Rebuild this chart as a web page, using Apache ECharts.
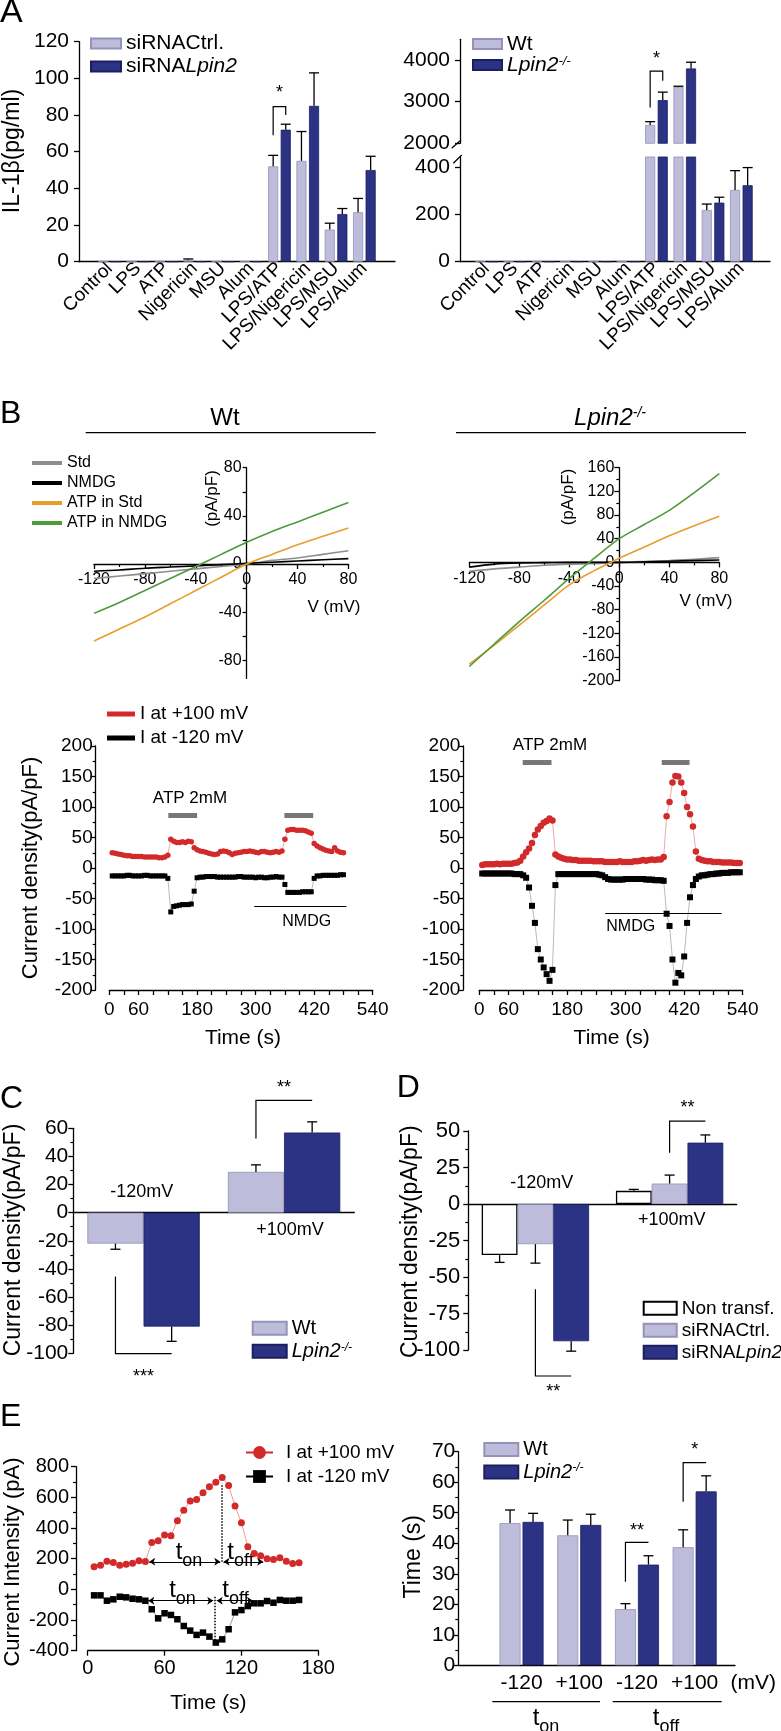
<!DOCTYPE html>
<html>
<head>
<meta charset="utf-8">
<script src="https://cdn.jsdelivr.net/npm/echarts@6.0.0/dist/echarts.min.js"></script>
<style>
html,body{margin:0;padding:0;background:#fff;}
#main{width:781px;height:1731px;}
</style>
</head>
<body>
<div id="main"></div>
<script>
// ---- data ----
var aCats = ['Control', 'LPS', 'ATP', 'Nigericin', 'MSU', 'Alum', 'LPS/ATP', 'LPS/Nigericin', 'LPS/MSU', 'LPS/Alum'];
var aLeftCtrl = [0, 0, 0, 1, 0, 0, 52, 55, 17.5, 27];
var aLeftCtrlSem = [0, 0, 0, 0.5, 0, 0, 6, 16, 3.5, 7.5];
var aLeftKd = [0, 0, 0, 0, 0, 0, 72, 85, 26, 50];
var aLeftKdSem = [0, 0, 0, 0, 0, 0, 3, 18, 3, 7.5];
var aRightWt = [0, 0, 0, 0, 0, 0, 2440, 3357, 220, 305];
var aRightWtSem = [0, 0, 0, 0, 0, 0, 80, 15, 25, 82];
var aRightKo = [0, 0, 0, 0, 0, 0, 3038, 3799, 251, 325];
var aRightKoSem = [0, 0, 0, 0, 0, 0, 192, 150, 23, 75];

// I-V curves (mV -> pA/pF)
var ivVolt = [-120, -100, -80, -60, -40, -20, 0, 20, 40, 60, 80];
var wtStd = [-12, -10, -8, -6, -4, -2, 0, 3, 5, 8, 11];
var wtNmdg = [-6, -5, -3.5, -2.5, -1.5, -0.5, 0.5, 1.5, 2.5, 3.5, 4.5];
var wtAtpStd = [-64, -54, -44, -33, -22, -11, 0, 8, 16, 23, 30];
var wtAtpNmdg = [-41, -32, -22, -12, -2, 8, 18, 27, 35, 43, 51];
var koStd = [-15, -11, -8, -5, -3, -2, 0, 1.5, 3, 5, 8];
var koNmdg = [-8, -3, -1, -0.5, 0, 0, 0, 1, 2, 3, 4];
var koAtpStd = [-172, -140, -106, -72, -38, -14, 7, 26, 45, 62, 78];
var koAtpNmdg = [-176, -138, -100, -64, -27, 7, 40, 64, 88, 118, 150];

// time courses (s -> pA/pF)
var wtTime = [6, 12, 18, 24, 30, 36, 42, 48, 54, 60, 66, 72, 78, 84, 90, 96, 102, 108, 114, 120,
  126, 132, 138, 144, 150, 156, 162, 168, 174, 180, 186, 192, 198, 204, 210, 216, 222, 228, 234, 240,
  246, 252, 258, 264, 270, 276, 282, 288, 294, 300, 306, 312, 318, 324, 330, 336, 342, 348, 354, 360,
  366, 372, 378, 384, 390, 396, 402, 408, 414, 420, 426, 432, 438, 444, 450, 456, 462, 468, 474, 480];
var wtRed = [25, 24, 23, 22, 21, 20, 20, 19, 19, 19, 19, 18, 18, 18, 18, 18, 17, 17, 18, 21,
  47, 44, 42, 42, 43, 42, 44, 43, 33, 30, 28, 27, 26, 24, 23, 22, 23, 27, 28, 27,
  25, 22, 24, 25, 26, 27, 27, 28, 27, 26, 25, 27, 27, 26, 25, 26, 27, 26, 28, 47,
  62, 63, 63, 62, 62, 62, 61, 59, 57, 40, 36, 33, 31, 29, 28, 27, 33, 28, 26, 25];
var wtBlack = [-13, -13, -13, -13, -13, -12, -12, -13, -13, -13, -13, -12, -12, -13, -13, -13, -13, -13, -13, -17,
  -72, -63, -62, -61, -60, -60, -60, -59, -38, -16, -15, -15, -14, -14, -14, -14, -15, -15, -15, -15,
  -15, -15, -15, -14, -14, -15, -15, -15, -15, -16, -15, -15, -16, -16, -15, -15, -14, -15, -15, -27,
  -40, -40, -40, -40, -40, -39, -39, -39, -39, -17, -13, -13, -12, -12, -12, -12, -12, -12, -11, -11];
var koTime = [6, 12, 18, 24, 30, 36, 42, 48, 54, 60, 66, 72, 78, 84, 90, 96, 102, 108, 114, 120,
  126, 132, 138, 144, 150, 156, 162, 168, 174, 180, 186, 192, 198, 204, 210, 216, 222, 228, 234, 240,
  246, 252, 258, 264, 270, 276, 282, 288, 294, 300, 306, 312, 318, 324, 330, 336, 342, 348, 354, 360,
  366, 372, 378, 384, 390, 396, 402, 408, 414, 420, 426, 432, 438, 444, 450, 456, 462, 468, 474, 480,
  486, 492, 498, 504, 510, 516, 522, 528, 534];
var koRed = [5, 6, 6, 6, 6, 7, 6, 7, 7, 7, 7, 8, 9, 12, 19, 26, 32, 41, 54, 63,
  69, 74, 77, 81, 78, 22, 19, 17, 15, 14, 14, 13, 13, 12, 12, 12, 12, 12, 11, 11,
  11, 11, 10, 10, 10, 10, 10, 11, 10, 10, 10, 10, 11, 11, 12, 13, 12, 13, 14, 13,
  14, 14, 18, 85, 108, 140, 151, 150, 140, 123, 100, 88, 68, 27, 15, 13, 12, 11, 11, 10,
  10, 10, 9, 9, 9, 9, 8, 8, 8];
var koBlack = [-9, -9, -9, -9, -9, -9, -9, -9, -9, -9, -9, -10, -10, -10, -12, -16, -32, -62, -90, -133,
  -150, -163, -174, -185, -167, -28, -10, -10, -10, -10, -10, -10, -10, -10, -10, -10, -10, -10, -10, -10,
  -11, -12, -15, -18, -19, -19, -19, -19, -19, -18, -18, -18, -18, -18, -18, -18, -19, -19, -19, -20,
  -20, -20, -21, -75, -95, -150, -188, -172, -176, -145, -90, -48, -28, -18, -14, -12, -12, -11, -10, -10,
  -9, -9, -8, -8, -8, -7, -7, -7, -7];

// C
var cCats = ['-120mV', '+100mV'];
var cWt = [-22, 29];
var cWtSem = [4, 5];
var cKo = [-81, 57];
var cKoSem = [10.5, 7.6];
// D
var dCats = ['-120mV', '+100mV'];
var dNon = [-35, 9];
var dNonSem = [5, 1];
var dCtrl = [-27.5, 14];
var dCtrlSem = [13, 5.8];
var dKd = [-94, 42];
var dKdSem = [6.8, 5.3];
// E
var eTime = [5, 10, 15, 20, 25, 30, 35, 40, 45, 50, 55, 60, 65, 70, 75, 80, 85, 90, 95, 100,
  105, 110, 115, 120, 125, 130, 135, 140, 145, 150, 155, 160, 165];
var eRed = [148, 158, 184, 176, 158, 163, 170, 187, 182, 306, 317, 354, 349, 447, 516, 577, 586, 630, 669, 699,
  730, 678, 543, 435, 278, 234, 219, 200, 195, 206, 184, 169, 174];
var eBlack = [-39, -39, -74, -65, -48, -52, -61, -65, -74, -130, -189, -156, -167, -195, -239, -269, -297, -282, -308, -347,
  -326, -260, -150, -135, -109, -91, -91, -76, -87, -69, -74, -74, -69];
var eCats = ['-120', '+100', '-120', '+100'];
var eWt = [46.6, 42.6, 18.4, 38.7];
var eWtSem = [4.3, 5, 1.8, 5.7];
var eKo = [47, 46, 33, 57];
var eKoSem = [2.8, 3.5, 2.9, 5.1];

// significance brackets: [category, leftBar, rightBar, yLeftEnd, yLine, yRightEnd, yStar]
var aLeftBrk = [[6, 0, 1, 69, 84.6, 80, 94.7]];
var aLeftStars = ['*'];
var aRightBrk = [[6, 0, 1, 2863, 3734, 3501, 4149]];
var aRightStars = ['*'];
var cBrk = [[1, 0, 1, 52.8, 79.9, 79.9, 92.2], [0, 0, 1, -45.4, -100.2, -100.2, -113.5]];
var cStars = ['**', '***'];
var dBrk = [[1, 1, 2, 35.1, 56.8, 56.8, 69], [0, 1, 2, -58.4, -117.8, -117.8, -125.1]];
var dStars = ['**', '**'];
var eBrk = [[2, 0, 1, 27.4, 40.3, 40.3, 45.7], [3, 0, 1, 53.6, 66.4, 66.4, 72.2]];
var eStars = ['**', '*'];

// ---- styles ----
var FONT = 'Liberation Sans, Arial, Helvetica, sans-serif';
var LIGHT = {color: '#BEBCDB', borderColor: '#9492B8', borderWidth: 0.8};
var DARK = {color: '#2C3385', borderColor: '#1B1F5E', borderWidth: 0.8};
var WHITE = {color: '#FFFFFF', borderColor: '#000000', borderWidth: 1.3};
var RED = '#D22A2A', ORANGE = '#E99D2B', GREEN = '#4C9B3A', GRAY = '#8E8E8E';

function mix(a, b) {
  var out = {}, k;
  for (k in a) out[k] = a[k];
  for (k in b) {
    if (b[k] && typeof b[k] === 'object' && !Array.isArray(b[k]) && a[k] && typeof a[k] === 'object' && !Array.isArray(a[k])) {
      out[k] = mix(a[k], b[k]);
    } else {
      out[k] = b[k];
    }
  }
  return out;
}
function pairs(xs, ys) {
  return xs.map(function (x, i) { return [x, ys[i]]; });
}
function plain(v) { return String(v); }

var axisBase = {
  splitLine: {show: false},
  axisLine: {show: true, onZero: false, lineStyle: {color: '#000', width: 1.3}},
  axisTick: {show: true, length: 5, inside: false, lineStyle: {color: '#000', width: 1.3}},
  minorTick: {show: false},
  axisLabel: {color: '#000', fontFamily: FONT, fontSize: 20, margin: 6}
};
var minor2 = {show: true, splitNumber: 2, length: 3, lineStyle: {color: '#000', width: 1.2}};
function vAx(g, o) { return mix(mix(axisBase, {type: 'value', gridIndex: g, axisLabel: {formatter: plain}}), o || {}); }
function cAx(g, cats, o) {
  return mix(mix(axisBase, {type: 'category', gridIndex: g, data: cats, axisTick: {show: false}, axisLabel: {interval: 0}}), o || {});
}

// ---- series helpers ----
function bar(g, name, vals, style, extra) {
  return mix({type: 'bar', name: name, xAxisIndex: g, yAxisIndex: g, data: vals, itemStyle: style, silent: true}, extra || {});
}
function barOff(api, n, k, cg, bg) {
  var band = api.size([1, 0])[0];
  var w = band * (1 - cg) / (n + (n - 1) * bg);
  return -band * (1 - cg) / 2 + w / 2 + k * w * (1 + bg);
}
function errSeries(g, vals, sems, k, n, cg, bg, keep) {
  var d = [];
  vals.forEach(function (v, i) {
    if (!sems[i]) return;
    var end = v >= 0 ? v + sems[i] : v - sems[i];
    if (keep && !keep(v, end)) return;
    d.push([i, v, end]);
  });
  return {
    type: 'custom', xAxisIndex: g, yAxisIndex: g, data: d, z: 3, silent: true,
    renderItem: function (params, api) {
      var off = barOff(api, n, k, cg, bg);
      var p0 = api.coord([api.value(0), api.value(1)]);
      var p1 = api.coord([api.value(0), api.value(2)]);
      var x = p0[0] + off, cap = 5;
      return {type: 'group', children: [
        {type: 'line', shape: {x1: x, y1: p0[1], x2: x, y2: p1[1]}, style: {stroke: '#000', lineWidth: 1.3}},
        {type: 'line', shape: {x1: x - cap, y1: p1[1], x2: x + cap, y2: p1[1]}, style: {stroke: '#000', lineWidth: 1.3}}
      ]};
    }
  };
}
function bracketSeries(g, brk, stars, n, cg, bg) {
  return {
    type: 'custom', xAxisIndex: g, yAxisIndex: g, data: brk, z: 4, silent: true,
    renderItem: function (params, api) {
      var c = api.value(0);
      var pL = api.coord([c, api.value(3)]), pM = api.coord([c, api.value(4)]);
      var pR = api.coord([c, api.value(5)]), pS = api.coord([c, api.value(6)]);
      var xl = pL[0] + barOff(api, n, api.value(1), cg, bg);
      var xr = pL[0] + barOff(api, n, api.value(2), cg, bg);
      return {type: 'group', children: [
        {type: 'polyline', shape: {points: [[xl, pL[1]], [xl, pM[1]], [xr, pM[1]], [xr, pR[1]]]},
          style: {stroke: '#000', lineWidth: 1.2, fill: 'none'}},
        {type: 'text', x: (xl + xr) / 2, y: pS[1] + 5,
          style: {text: stars[params.dataIndex], fontSize: 18, fontFamily: FONT, fill: '#000', align: 'center', verticalAlign: 'middle'}}
      ]};
    }
  };
}
function ivLine(g, name, vals, color) {
  return {type: 'line', name: name, xAxisIndex: g, yAxisIndex: g, data: pairs(ivVolt, vals), symbol: 'none',
    smooth: 0.3, silent: true, z: 3, lineStyle: {color: color, width: 1.6}, itemStyle: {color: color}};
}
function tcLine(g, name, xs, ys, color, sym, size, lineColor, mark) {
  var s = {type: 'line', name: name, xAxisIndex: g, yAxisIndex: g, data: pairs(xs, ys), symbol: sym,
    symbolSize: size, silent: true, z: 3, itemStyle: {color: color}, lineStyle: {color: lineColor, width: 0.8}};
  if (mark) s.markLine = mix({silent: true, symbol: ['none', 'none'], label: {show: false}, emphasis: {disabled: true}, animation: false}, mark);
  return s;
}
function seg(x1, y1, x2, y2) { return [{coord: [x1, y1]}, {coord: [x2, y2]}]; }
function dotted(x1, y1, x2, y2) {
  return [{coord: [x1, y1], symbol: 'none', lineStyle: {type: 'dotted', width: 1.5, color: '#000'}}, {coord: [x2, y2], symbol: 'none'}];
}

// ---- layout ----
var grids = [
  {left: 95.5, top: 41.7, width: 283, height: 220},      // 0 A left
  {left: 472.5, top: 39.3, width: 283, height: 104},     // 1 A right upper
  {left: 472.5, top: 157, width: 283, height: 104.7},    // 2 A right lower
  {left: 94, top: 467.7, width: 254.4, height: 210.7},   // 3 IV Wt
  {left: 469.3, top: 467.7, width: 250, height: 213},    // 4 IV Lpin2
  {left: 109.3, top: 746, width: 263.4, height: 244},    // 5 time Wt
  {left: 479.3, top: 746, width: 263.4, height: 244},    // 6 time Lpin2
  {left: 73.3, top: 1128.3, width: 281, height: 225},    // 7 C
  {left: 468.3, top: 1131, width: 268.4, height: 219},   // 8 D
  {left: 87.7, top: 1466.7, width: 230.6, height: 184},  // 9 E left
  {left: 492.7, top: 1451.7, width: 230.8, height: 213.6}, // 10 E right
  {left: 79, top: 260.7, width: 316, height: 1},         // 11 A left axis line
  {left: 460, top: 260.7, width: 310, height: 1},        // 12 A right axis line
  {left: 458.3, top: 1664.3, width: 276.7, height: 1}    // 13 E right axis line
].map(function (g) { g.outerBoundsMode = 'none'; g.containLabel = false; return g; });

var timeTicks = [0, 30, 60, 90, 120, 150, 180, 210, 240, 270, 300, 330, 360, 390, 420, 450, 480, 510, 540];
var lineOnly = {min: 0, max: 1, axisTick: {show: false}, axisLabel: {show: false}};

// I-V axes cross at the origin: shift them inward from the grid edge
var ivWtXOff = -(210.7 * 95 / 175), ivWtYOff = -(254.4 * 120 / 200);
var ivKoXOff = -(213 * 200 / 360), ivKoYOff = -(250 * 120 / 200);

var xAxes = [
  cAx(0, aCats, {axisLine: {show: false}, axisLabel: {rotate: 45, fontSize: 19, margin: 4}}),
  cAx(1, aCats, {show: false}),
  cAx(2, aCats, {axisLine: {show: false}, axisLabel: {rotate: 45, fontSize: 19, margin: 4}}),
  vAx(3, {min: -120, max: 80, interval: 40, offset: ivWtXOff, minorTick: minor2, axisLabel: {fontSize: 16, margin: 8}}),
  vAx(4, {min: -120, max: 80, interval: 40, offset: ivKoXOff, minorTick: minor2, axisLabel: {fontSize: 16, margin: 8}}),
  vAx(5, {min: 0, max: 540, axisLabel: {fontSize: 19, margin: 10, customValues: [0, 60, 180, 300, 420, 540]}, axisTick: {customValues: timeTicks}}),
  vAx(6, {min: 0, max: 540, axisLabel: {fontSize: 19, margin: 10, customValues: [0, 60, 180, 300, 420, 540]}, axisTick: {customValues: timeTicks}}),
  cAx(7, cCats, {axisLabel: {show: false}, axisLine: {onZero: true}}),
  cAx(8, dCats, {axisLabel: {show: false}, axisLine: {onZero: true}}),
  vAx(9, {min: 0, max: 180, interval: 60, axisLabel: {fontSize: 20, margin: 8}}),
  cAx(10, eCats, {axisLine: {show: false}, axisLabel: {fontSize: 21, margin: 7}}),
  vAx(11, lineOnly),
  vAx(12, lineOnly),
  vAx(13, lineOnly)
];
var yAxes = [
  vAx(0, {min: 0, max: 120, interval: 20, offset: 16.5, axisLabel: {fontSize: 21, margin: 10}}),
  vAx(1, {min: 2000, max: 4500, offset: 12.5, axisLabel: {fontSize: 21, margin: 10, customValues: [2000, 3000, 4000]}, axisTick: {customValues: [2000, 3000, 4000]}}),
  vAx(2, {min: 0, max: 445, offset: 12.5, axisLabel: {fontSize: 21, margin: 10, customValues: [0, 200, 400]}, axisTick: {customValues: [0, 200, 400]}}),
  vAx(3, {min: -95, max: 80, offset: ivWtYOff, axisLabel: {fontSize: 16, margin: 5, customValues: [-80, -40, 0, 40, 80]},
    axisTick: {length: 4, customValues: [-80, -60, -40, -20, 0, 20, 40, 60, 80]}}),
  vAx(4, {min: -200, max: 160, interval: 40, offset: ivKoYOff, minorTick: minor2, axisLabel: {fontSize: 16, margin: 5}}),
  vAx(5, {min: -200, max: 200, interval: 50, offset: 13.6, minorTick: minor2, axisLabel: {fontSize: 19, margin: 3}}),
  vAx(6, {min: -200, max: 200, interval: 50, offset: 16, minorTick: minor2, axisLabel: {fontSize: 19, margin: 3}}),
  vAx(7, {min: -100, max: 60, interval: 20, minorTick: minor2, axisLabel: {fontSize: 21, margin: 5}}),
  vAx(8, {min: -100, max: 50, interval: 25, minorTick: minor2, axisLabel: {fontSize: 22, margin: 8}}),
  vAx(9, {min: -400, max: 800, interval: 200, offset: 11.7, minorTick: minor2, axisLabel: {fontSize: 20, margin: 7}}),
  vAx(10, {min: 0, max: 70, interval: 10, offset: 34.4, minorTick: minor2, axisLabel: {fontSize: 21, margin: 3}}),
  {type: 'value', gridIndex: 11, show: false},
  {type: 'value', gridIndex: 12, show: false},
  {type: 'value', gridIndex: 13, show: false}
];

// ---- series ----
var series = [];
// A
series.push(bar(0, 'siRNACtrl.', aLeftCtrl, LIGHT, {barCategoryGap: '20%', barGap: '25%'}));
series.push(bar(0, 'siRNALpin2', aLeftKd, DARK));
series.push(errSeries(0, aLeftCtrl, aLeftCtrlSem, 0, 2, 0.2, 0.25));
series.push(errSeries(0, aLeftKd, aLeftKdSem, 1, 2, 0.2, 0.25));
series.push(bracketSeries(0, aLeftBrk, aLeftStars, 2, 0.2, 0.25));
series.push(bar(1, 'Wt', aRightWt, LIGHT, {barCategoryGap: '20%', barGap: '25%'}));
series.push(bar(1, 'Lpin2-/-', aRightKo, DARK));
series.push(bar(2, 'Wt', aRightWt, LIGHT, {barCategoryGap: '20%', barGap: '25%'}));
series.push(bar(2, 'Lpin2-/-', aRightKo, DARK));
var upper = function (v) { return v >= 2000; };
var lower = function (v, end) { return end <= 445; };
series.push(errSeries(1, aRightWt, aRightWtSem, 0, 2, 0.2, 0.25, upper));
series.push(errSeries(1, aRightKo, aRightKoSem, 1, 2, 0.2, 0.25, upper));
series.push(errSeries(2, aRightWt, aRightWtSem, 0, 2, 0.2, 0.25, lower));
series.push(errSeries(2, aRightKo, aRightKoSem, 1, 2, 0.2, 0.25, lower));
series.push(bracketSeries(1, aRightBrk, aRightStars, 2, 0.2, 0.25));
// B: I-V
series.push(ivLine(3, 'Std', wtStd, GRAY));
series.push(ivLine(3, 'NMDG', wtNmdg, '#000'));
series.push(ivLine(3, 'ATP in Std', wtAtpStd, ORANGE));
series.push(ivLine(3, 'ATP in NMDG', wtAtpNmdg, GREEN));
series.push(ivLine(4, 'Std', koStd, GRAY));
series.push(ivLine(4, 'NMDG', koNmdg, '#000'));
series.push(ivLine(4, 'ATP in Std', koAtpStd, ORANGE));
series.push(ivLine(4, 'ATP in NMDG', koAtpNmdg, GREEN));
// B: time courses
var grayBar = {lineStyle: {color: '#777', width: 5, type: 'solid'}};
var thin = {lineStyle: {color: '#000', width: 1, type: 'solid'}};
series.push(tcLine(5, 'I at +100 mV', wtTime, wtRed, RED, 'circle', 5.5, 'rgba(210,42,42,0.5)',
  mix(grayBar, {data: [seg(121, 87, 180, 87), seg(359, 87, 418, 87)]})));
series.push(tcLine(5, 'I at -120 mV', wtTime, wtBlack, '#000', 'rect', 5, 'rgba(0,0,0,0.35)',
  mix(thin, {data: [seg(297, -62, 486, -62)]})));
series.push(tcLine(6, 'I at +100 mV', koTime, koRed, RED, 'circle', 6.5, 'rgba(210,42,42,0.5)',
  mix(grayBar, {data: [seg(89, 172.6, 148, 172.6), seg(374, 172.6, 431, 172.6)]})));
series.push(tcLine(6, 'I at -120 mV', koTime, koBlack, '#000', 'rect', 6, 'rgba(0,0,0,0.35)',
  mix(thin, {data: [seg(258, -74, 497, -74)]})));
// C
series.push(bar(7, 'Wt', cWt, LIGHT, {barCategoryGap: '20%', barGap: '0%'}));
series.push(bar(7, 'Lpin2-/-', cKo, DARK));
series.push(errSeries(7, cWt, cWtSem, 0, 2, 0.2, 0));
series.push(errSeries(7, cKo, cKoSem, 1, 2, 0.2, 0));
series.push(bracketSeries(7, cBrk, cStars, 2, 0.2, 0));
// D
series.push(bar(8, 'Non transf.', dNon, WHITE, {barCategoryGap: '20%', barGap: '0%'}));
series.push(bar(8, 'siRNACtrl.', dCtrl, LIGHT));
series.push(bar(8, 'siRNALpin2', dKd, DARK));
series.push(errSeries(8, dNon, dNonSem, 0, 3, 0.2, 0));
series.push(errSeries(8, dCtrl, dCtrlSem, 1, 3, 0.2, 0));
series.push(errSeries(8, dKd, dKdSem, 2, 3, 0.2, 0));
series.push(bracketSeries(8, dBrk, dStars, 3, 0.2, 0));
// E left
var arrows = {symbol: ['arrow', 'arrow'], symbolSize: 6, lineStyle: {color: '#000', width: 1, type: 'solid'}};
series.push(tcLine(9, 'I at +100 mV', eTime, eRed, RED, 'circle', 7, 'rgba(210,42,42,0.6)',
  mix(arrows, {data: [seg(48, 180, 103.5, 180), seg(106, 180, 137, 180), dotted(104.5, 180, 104.5, 690)]})));
series.push(tcLine(9, 'I at -120 mV', eTime, eBlack, '#000', 'rect', 6.5, 'rgba(0,0,0,0.5)',
  mix(arrows, {data: [seg(47.3, -74, 98, -74), seg(100.7, -74, 129, -74), dotted(99.3, -48, 99.3, -341)]})));
// E right
series.push(bar(10, 'Wt', eWt, LIGHT, {barCategoryGap: '23.7%', barGap: '9.5%'}));
series.push(bar(10, 'Lpin2-/-', eKo, DARK));
series.push(errSeries(10, eWt, eWtSem, 0, 2, 0.237, 0.095));
series.push(errSeries(10, eKo, eKoSem, 1, 2, 0.237, 0.095));
series.push(bracketSeries(10, eBrk, eStars, 2, 0.237, 0.095));

// ---- legends ----
function legFmt(name) {
  if (name === 'siRNALpin2') return 'siRNA{i|Lpin2}';
  if (name === 'Lpin2-/-') return '{i|Lpin2}{s|-/-}';
  return name;
}
function leg(o) {
  return mix({
    orient: 'vertical', selectedMode: false, icon: 'rect', padding: 0, itemGap: 2,
    formatter: legFmt,
    textStyle: {color: '#000', fontFamily: FONT, fontSize: 20,
      rich: {i: {fontStyle: 'italic', fontSize: 20, fontFamily: FONT, color: '#000'},
        s: {fontStyle: 'italic', fontSize: 12, fontFamily: FONT, color: '#000', verticalAlign: 'top'}}}
  }, o);
}
var legends = [
  leg({left: 90, top: 33, itemWidth: 30, itemHeight: 10, itemGap: 2, data: ['siRNACtrl.', 'siRNALpin2'],
    textStyle: {fontSize: 21, rich: {i: {fontSize: 21}}}}),
  leg({left: 472, top: 33.5, itemWidth: 29, itemHeight: 10, itemGap: 0, data: ['Wt', 'Lpin2-/-'],
    textStyle: {fontSize: 21, rich: {i: {fontSize: 21}, s: {fontSize: 13}}}}),
  leg({left: 32, top: 455, itemWidth: 30, itemHeight: 4, itemGap: 4, data: ['Std', 'NMDG', 'ATP in Std', 'ATP in NMDG'],
    textStyle: {fontSize: 16}}),
  leg({left: 107, top: 704.5, itemWidth: 28, itemHeight: 5, itemGap: 5, data: ['I at +100 mV', 'I at -120 mV'],
    textStyle: {fontSize: 19}}),
  leg({left: 251.7, top: 1318.3, itemWidth: 34, itemHeight: 13, itemGap: 3, data: ['Wt', 'Lpin2-/-']}),
  leg({left: 642.7, top: 1298.8, itemWidth: 33, itemHeight: 13, itemGap: 3, data: ['Non transf.', 'siRNACtrl.', 'siRNALpin2'],
    textStyle: {fontSize: 19, rich: {i: {fontSize: 19}}}}),
  leg({left: 245, top: 1443, itemWidth: 27, itemHeight: 16, itemGap: 5, icon: undefined,
    data: [{name: 'I at +100 mV', itemStyle: {color: RED}, lineStyle: {color: RED, width: 2}},
      {name: 'I at -120 mV', itemStyle: {color: '#000'}, lineStyle: {color: '#000', width: 2}}],
    textStyle: {fontSize: 19, padding: [0, 0, 0, 8]}}),
  leg({left: 483.3, top: 1439.5, itemWidth: 34, itemHeight: 13, itemGap: 2.5, data: ['Wt', 'Lpin2-/-']})
];

// ---- text annotations ----
function gText(x, y, text, size, o) {
  o = o || {};
  return {type: 'text', x: x, y: y, rotation: o.rot || 0, silent: true,
    style: {text: text, fontSize: size, fontFamily: FONT, fill: '#000', align: o.align || 'center',
      verticalAlign: 'middle', fontStyle: o.italic ? 'italic' : 'normal', rich: o.rich}};
}
function gLine(x1, y1, x2, y2, w) {
  return {type: 'line', silent: true, shape: {x1: x1, y1: y1, x2: x2, y2: y2}, style: {stroke: '#000', lineWidth: w || 1.2}};
}
var R90 = Math.PI / 2;
var subRich = {t: {fontSize: 24, lineHeight: 24, verticalAlign: 'top', fontFamily: FONT, color: '#000'},
  b: {fontSize: 18, lineHeight: 18, padding: [12, 0, 0, 0], verticalAlign: 'top', fontFamily: FONT, color: '#000'}};
var koRich = {i: {fontSize: 24, fontStyle: 'italic', fontFamily: FONT, color: '#000'},
  s: {fontSize: 14, fontStyle: 'italic', fontFamily: FONT, color: '#000', verticalAlign: 'top'}};

var texts = [
  gText(0, 13, 'A', 34, {align: 'left'}),
  gText(0, 414, 'B', 32, {align: 'left'}),
  gText(0, 1099, 'C', 32, {align: 'left'}),
  gText(396.7, 1088.3, 'D', 32, {align: 'left'}),
  gText(0, 1416.7, 'E', 32, {align: 'left'}),
  // A
  gText(13, 151, 'IL-1β(pg/ml)', 23, {rot: R90}),
  gLine(451.7, 148.3, 461, 140), gLine(453.3, 163.3, 461.7, 155),
  // B headers
  gText(225, 418, 'Wt', 24),
  gLine(85.7, 432.7, 375.7, 432.7),
  gText(610, 418, '{i|Lpin2}{s|-/-}', 24, {rich: koRich}),
  gLine(456, 432.7, 746, 432.7),
  // B I-V
  gText(212, 498.5, '(pA/pF)', 17, {rot: R90}),
  gText(568, 497, '(pA/pF)', 17, {rot: R90}),
  gText(334, 607, 'V (mV)', 17),
  gText(706, 601.7, 'V (mV)', 17),
  // B time
  gText(31, 868, 'Current density(pA/pF)', 22, {rot: R90}),
  gText(243, 1038, 'Time (s)', 21),
  gText(611.7, 1038, 'Time (s)', 21),
  gText(190, 798, 'ATP 2mM', 17),
  gText(550, 745, 'ATP 2mM', 17),
  gText(306.7, 922, 'NMDG', 16),
  gText(630.7, 927, 'NMDG', 16),
  // C
  gText(14, 1240, 'Current density(pA/pF)', 23, {rot: R90}),
  gText(141.7, 1191.7, '-120mV', 18),
  gText(290, 1230, '+100mV', 18),
  // D
  gText(411, 1241.7, 'Current density(pA/pF)', 23, {rot: R90}),
  gText(541.7, 1183.3, '-120mV', 18),
  gText(671.7, 1220, '+100mV', 18),
  // E left
  gText(13, 1562, 'Current Intensity (pA)', 22, {rot: R90}),
  gText(208.3, 1703.3, 'Time (s)', 21),
  gText(189, 1552, '{t|t}{b|on}', 24, {rich: subRich}),
  gText(240.5, 1552, '{t|t}{b|off}', 24, {rich: subRich}),
  gText(182.5, 1590, '{t|t}{b|on}', 24, {rich: subRich}),
  gText(235.5, 1590, '{t|t}{b|off}', 24, {rich: subRich}),
  // E right
  gText(414, 1556.7, 'Time (s)', 23, {rot: R90}),
  gText(753.3, 1683.3, '(mV)', 21),
  gLine(492.3, 1701.7, 600, 1701.7),
  gLine(612.7, 1701.7, 721.7, 1701.7),
  gText(546, 1718.3, '{t|t}{b|on}', 24, {rich: subRich}),
  gText(666, 1718.3, '{t|t}{b|off}', 24, {rich: subRich})
];

var myChart = echarts.init(document.getElementById('main'), null, {renderer: 'canvas'});
var option = {
  animation: false,
  backgroundColor: '#ffffff',
  textStyle: {fontFamily: FONT, color: '#000'},
  grid: grids,
  xAxis: xAxes,
  yAxis: yAxes,
  legend: legends,
  series: series,
  graphic: {elements: texts}
};
myChart.setOption(option);
</script>
</body>
</html>
